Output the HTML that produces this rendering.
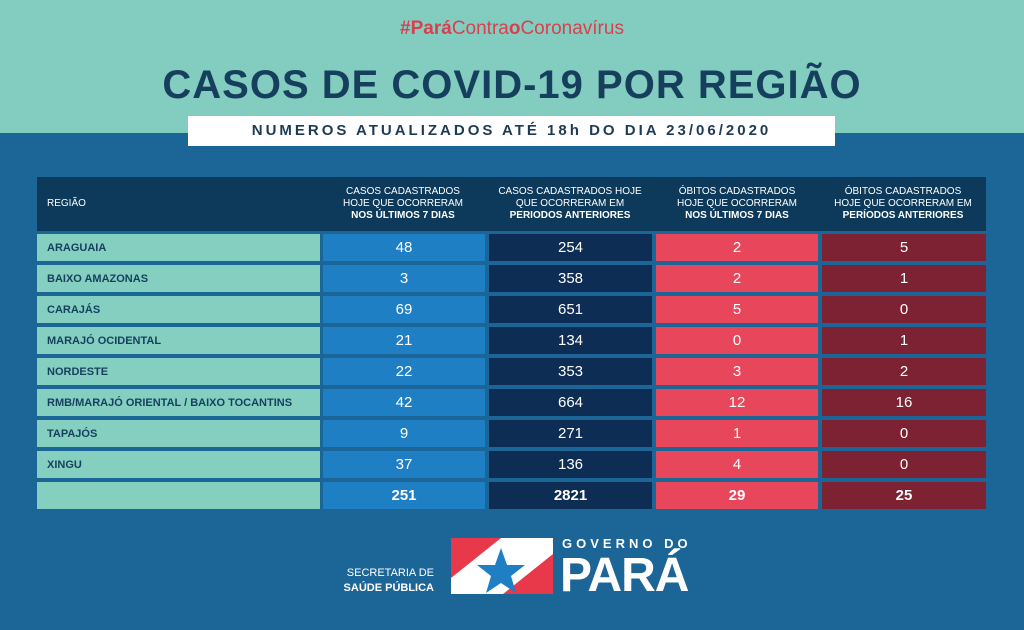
<!DOCTYPE html>
<html><head><meta charset="utf-8"><style>
body{margin:0;width:1024px;height:630px;overflow:hidden;background:#1c6597;font-family:"Liberation Sans",sans-serif;position:relative}
.top{position:absolute;left:0;top:0;width:1024px;height:133px;background:#82cdc0}
.tag{position:absolute;top:18px;width:1024px;text-align:center;font-size:19px;color:#d9404f}
.title{position:absolute;top:63px;width:1024px;text-align:center;font-size:40px;font-weight:bold;color:#163f5e;letter-spacing:1px}
.ban{position:absolute;left:188px;top:116px;width:647px;height:30px;background:#fff;text-align:center;line-height:30px;font-size:15px;font-weight:bold;color:#1d3b55;letter-spacing:3px}
.hd{position:absolute;top:177px;height:54px;background:#0d3a5a;color:#fff;font-size:10px;text-align:center;display:flex;align-items:center;justify-content:center;line-height:12px}
.c{position:absolute;height:27px;line-height:28px;color:#fff;text-align:center;font-size:15px}
.r{background:#84cfc0;color:#163f5e;text-align:left;padding-left:10px;font-size:11px;font-weight:bold;box-sizing:border-box;line-height:29px}
</style></head><body>
<div class="top"></div>
<div class="tag"><b>#Pará</b>Contra<b>o</b>Coronavírus</div>
<div class="title">CASOS DE COVID-19 POR REGIÃO</div>
<div class="ban">NUMEROS ATUALIZADOS ATÉ 18h DO DIA 23/06/2020</div>
<div class="hd" style="left:37px;width:283px;justify-content:flex-start;padding-left:10px;box-sizing:border-box">REGIÃO</div>
<div class="hd" style="left:320px;width:166px"><div>CASOS CADASTRADOS<br>HOJE QUE OCORRERAM<br><b>NOS ÚLTIMOS 7 DIAS</b></div></div>
<div class="hd" style="left:486px;width:168px"><div>CASOS CADASTRADOS HOJE<br>QUE OCORRERAM EM<br><b>PERIODOS ANTERIORES</b></div></div>
<div class="hd" style="left:654px;width:166px"><div>ÓBITOS CADASTRADOS<br>HOJE QUE OCORRERAM<br><b>NOS ÚLTIMOS 7 DIAS</b></div></div>
<div class="hd" style="left:820px;width:166px"><div>ÓBITOS CADASTRADOS<br>HOJE QUE OCORRERAM EM<br><b>PERÍODOS ANTERIORES</b></div></div>
<div id="rows"></div>
<script>
var d=[["ARAGUAIA",48,254,2,5],["BAIXO AMAZONAS",3,358,2,1],["CARAJÁS",69,651,5,0],["MARAJÓ OCIDENTAL",21,134,0,1],["NORDESTE",22,353,3,2],["RMB/MARAJÓ ORIENTAL / BAIXO TOCANTINS",42,664,12,16],["TAPAJÓS",9,271,1,0],["XINGU",37,136,4,0],["",251,2821,29,25]];
var h="",cols=[[323,162,"#1f7fc4"],[489,163,"#0e2d55"],[656,162,"#e8465a"],[822,164,"#7d2232"]];
d.forEach(function(r,i){var y=234+i*31;var b=i==8?"font-weight:bold;":"";
h+='<div class="c r" style="left:37px;width:283px;top:'+y+'px">'+r[0]+'</div>';
cols.forEach(function(c,j){h+='<div class="c" style="'+b+'left:'+c[0]+'px;width:'+c[1]+'px;top:'+y+'px;background:'+c[2]+'">'+r[j+1]+'</div>';});});
document.getElementById("rows").innerHTML=h;
</script>
<div style="position:absolute;left:330px;top:566px;width:104px;text-align:right;color:#fff;font-size:11px;line-height:15px">SECRETARIA DE<br><b>SAÚDE PÚBLICA</b></div>
<svg style="position:absolute;left:451px;top:538px" width="102" height="56" viewBox="0 0 102 56">
<rect width="102" height="56" fill="#fff"/><polygon points="0,0 50,0 0,40" fill="#e8394a"/><polygon points="102,56 52,56 102,16" fill="#e8394a"/>
<polygon points="50,10 56,27 74,27 60,38 65,55 50,45 35,55 40,38 26,27 44,27" fill="#1f7fc4"/></svg>
<div style="position:absolute;left:562px;top:536px;color:#fff;font-size:13px;font-weight:bold;letter-spacing:4px">GOVERNO DO</div>
<div style="position:absolute;left:560px;top:548px;color:#fff;font-size:48px;font-weight:bold;letter-spacing:-1px">PARÁ</div>
</body></html>
